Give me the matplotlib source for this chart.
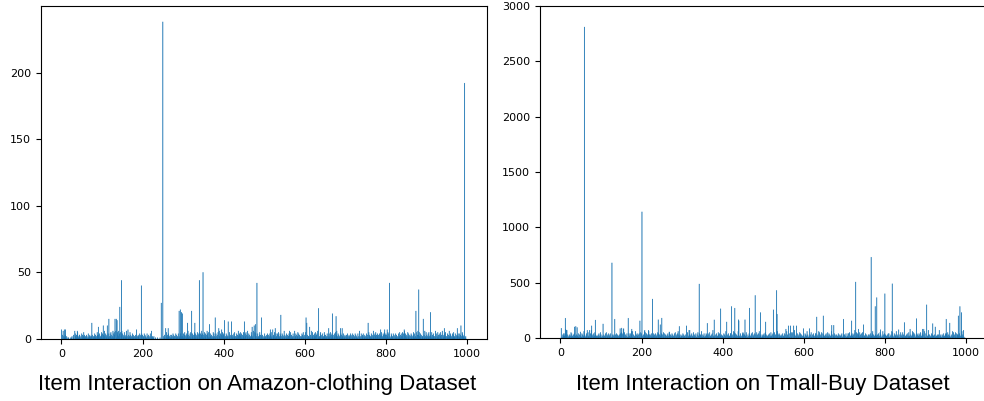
import numpy as np
import matplotlib.pyplot as plt

# ===== 1. data =====
# baseline counts for items 0..999 (one digit per item, groups of 10)
amazon_base = """
7030602713 7102001100 0001012001 3006420316 5210331020 4130251302 1032014102 3120213012 0241312053 2031402135
1402316204 3125041320 4251302614 5320641253 2614305216 4031250213 6120413025 1302140312 0213041203 2104302140
3021403120 1402031024 0130210120 0010000100 0001000000 1200310405 2130412031 0312041302 2041302140 3120413202
1403520314 2061302415 0314203152 4130251403 2514036142 1305241306 4215031420 3120514203 1402315036 2140310524
3051204132 1402513024 0312041520 2140316204 3520413025 1304250316 2041302153 4126030514 2031402135 0314203102
1402130241 3021403512 0413250314 2104350214 3520413026 1302140312 2413051302 1402031240 3125041302 0214305120
3152041302 2140316025 1302415203 4061302145 2031402153 1302140216 4125031402 3014205136 2140312054 1302140213
0213041203 2104302140 3021403120 1402031024 0231402130 2140312052 3120413026 1304250314 2031402135 0214305213
4130251403 2104302140 3021403120 1402513024 2514036142 3120514203 2041302153 1402315036 3152041302 2140316025
1302415203 4215031420 2031402153 1304250316 0312041520 2140316204 3021403512 1402031240 2140312054 3210401200
"""

# tmall baseline, in tens of interactions
tmall_base = """
0090103241 2418271031 0213205140 2130410201 3120410305 2014032160 3102413051 2031407120 3140251302 1203140215
3012041302 1405021304 2130410213 2031503140 1320213041 5240382150 3120410214 2041308160 3012061304 2130412051
4102031605 2140312063 1302410214 2031402130 5140310204 2031510413 1203140215 0312041302 1405021304 6130210312
2041302103 1405021730 2130412051 3120410305 2014032160 1302410214 3102413051 2031407120 1203140215 3140251302
2014032160 1302410214 4102031605 2140312063 3120410214 5240382150 3012041302 1405021304 2031503140 6130210312
3140251302 1203140215 2130412051 3012061304 1320213041 2041308160 3120410305 1405021730 2031402130 5140310204
2014032160 3102413051 1302410214 4102031605 2031510413 1203140215 2140312063 3012041302 0312041302 2130410213
3120410214 1405021304 2031407120 5240382150 3140251302 2041302103 1302410214 6130210312 2130412051 3012061304
1320213041 4102031605 2014032160 3120410305 2031503140 1203140215 2140312063 5140310204 3102413051 2041308160
1405021730 3012041302 2130410213 2031402130 1302410214 3140251302 4102031605 2031510413 3120410214 6130210000
"""

# taller bars (item index: count)
amazon_peaks = {
    75: 12, 91: 9, 103: 10, 113: 10, 117: 15, 132: 15, 135: 15, 137: 14, 144: 24, 148: 44,
    164: 7, 185: 7, 197: 40, 222: 6, 246: 27, 250: 238, 257: 8, 263: 8, 290: 21, 293: 22,
    296: 20, 298: 19, 311: 12, 321: 21, 329: 12, 340: 44, 349: 50, 365: 11, 379: 16, 388: 8,
    395: 7, 402: 14, 411: 13, 419: 13, 451: 13, 470: 9, 475: 10, 478: 11, 482: 42, 493: 16,
    515: 7, 521: 7, 527: 8, 541: 18, 562: 6, 575: 6, 603: 16, 605: 12, 612: 9, 634: 23,
    659: 8, 668: 19, 677: 17, 688: 8, 692: 8, 735: 6, 756: 12, 787: 7, 797: 7, 803: 7,
    809: 42, 845: 7, 874: 21, 881: 37, 892: 15, 910: 20, 922: 6, 944: 8, 976: 8, 985: 10,
    994: 192,
}

tmall_peaks = {
    2: 88, 12: 179, 16: 70, 35: 100, 38: 105, 41: 95, 49: 55, 59: 2810, 66: 70, 72: 70,
    77: 110, 86: 162, 105: 127, 127: 679, 134: 170, 147: 85, 151: 90, 156: 85, 167: 179, 175: 60,
    196: 155, 201: 1140, 208: 70, 217: 70, 227: 352, 241: 165, 246: 120, 250: 180, 268: 55, 293: 105,
    311: 110, 319: 70, 342: 488, 362: 133, 379: 164, 395: 264, 410: 145, 422: 285, 430: 270, 439: 165,
    440: 155, 455: 165, 466: 270, 480: 385, 493: 230, 506: 145, 525: 255, 533: 430, 534: 215, 562: 110,
    567: 110, 575: 110, 582: 110, 599: 85, 614: 85, 632: 190, 648: 200, 669: 115, 674: 115, 698: 170,
    718: 155, 728: 506, 747: 120, 766: 730, 776: 285, 780: 365, 789: 75, 800: 400, 818: 490, 834: 75,
    848: 140, 862: 80, 878: 175, 893: 80, 903: 300, 918: 130, 924: 100, 934: 70, 951: 170, 960: 135,
    981: 200, 985: 285, 989: 230, 994: 70,
}

titles = ["Item Interaction on Amazon-clothing Dataset",
          "Item Interaction on Tmall-Buy Dataset"]


def build(base, peaks, unit):
    vals = np.array([int(c) * unit for c in "".join(base.split())], dtype=float)
    for i, v in peaks.items():
        vals[i] = v
    return vals


amazon = build(amazon_base, amazon_peaks, 1)
tmall = build(tmall_base, tmall_peaks, 10)

# ===== 2. plot =====
fig = plt.figure(figsize=(9.84, 4.01), dpi=100)
ax1 = fig.add_axes([0.0417, 0.1546, 0.4533, 0.8304])
ax2 = fig.add_axes([0.5488, 0.1571, 0.4533, 0.8279])

# bars are thinner than a pixel: no snapping, thin edge so every bar shows
for ax, vals in [(ax1, amazon), (ax2, tmall)]:
    ax.bar(np.arange(len(vals)), vals, color="#1f77b4", edgecolor="#1f77b4",
           linewidth=0.35, snap=False, alpha=0.85)
ax2.set_ylim(0, 3000)

for ax in [ax1, ax2]:
    ax.set_xticks([0, 200, 400, 600, 800, 1000])
    ax.tick_params(labelsize=8, length=3.5, width=0.8)
    for s in ax.spines.values():
        s.set_linewidth(0.8)

fig.text(0.261, 0.04, titles[0], ha="center", va="center",
         fontsize=16, family="Liberation Sans")
fig.text(0.775, 0.04, titles[1], ha="center", va="center",
         fontsize=16, family="Liberation Sans")

plt.savefig("out.png", dpi=100)
